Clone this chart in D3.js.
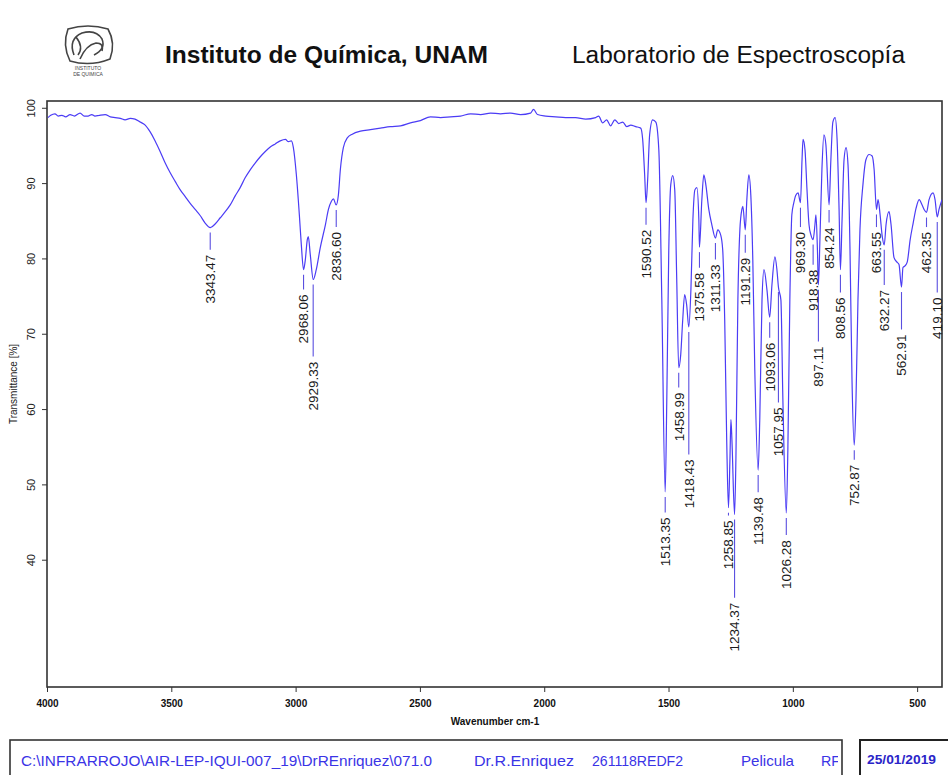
<!DOCTYPE html>
<html>
<head>
<meta charset="utf-8">
<script src="https://cdn.jsdelivr.net/npm/d3@7"></script>
<style>
  html, body { margin: 0; padding: 0; background: #fff; }
  svg { display: block; font-family: "Liberation Sans", Arial, sans-serif; }
</style>
</head>
<body>
<svg id="chart" width="948" height="775"></svg>
<script>
// IR spectrum: wavenumber (cm-1) and transmittance (%)
const wavenumber = [
  3996,3985,3968,3955,3940,3925,3907,3890,3867,3850,3835,3820,3807,3790,3766,3745,3726,3705,3686,3665,
  3646,3625,3605,3585,3565,3545,3525,3505,3484,3464,3444,3424,3404,3384,3364,3343,3323,3303,3283,3263,
  3243,3223,3203,3182,3162,3142,3122,3102,3082,3062,3041,3029,3017,3009,2997,2985,2977,2968,2961,2953,
  2949,2941,2929,2917,2901,2880,2868,2856,2848,2837,2828,2820,2808,2792,2772,2739,2699,2659,2619,2578,
  2538,2498,2458,2417,2377,2337,2296,2256,2216,2176,2135,2095,2055,2043,2027,1994,1954,1914,1874,1833,
  1793,1781,1765,1749,1733,1716,1700,1684,1668,1652,1632,1612,1604,1596,1590.5,1584,1576,1564,1551,1539,
  1527,1513.4,1507,1499,1491,1483,1475,1467,1459,1451,1443,1435,1427,1418.4,1410,1402,1394,1386,1378,1375.6,
  1366,1358,1350,1338,1326,1311.3,1302,1290,1282,1274,1266,1258.9,1253,1249,1245,1234.4,1229,1221,1213,1205,
  1201,1191.3,1185,1177,1169,1161,1153,1139.5,1133,1124,1116,1104,1093.1,1084,1072,1064,1058,1048,1040,1026.3,
  1020,1012,1004,996,988,979,969.3,963,959,951,943,935,927,918.4,911,907,901,897.1,891,883,
  875,867,854.2,847,839,830,822,814,808.6,802,794,786,778,770,762,752.9,746,738,730,718,
  706,693,681,673,663.6,657,649,641,632.3,625,613,605,593,581,573,562.9,557,549,540,528,
  516,504,492,480,472,462.4,452,436,428,419.1,412,400
];
const transmittance = [
  98.7,99.0,99.2,98.9,99.0,98.8,99.1,98.9,99.3,98.9,98.9,99.1,98.9,99.0,99.1,98.8,98.7,98.6,98.4,98.6,
  98.5,98.1,97.7,96.8,95.6,94.2,92.7,91.4,90.2,89.1,88.2,87.3,86.5,85.7,84.7,84.1,84.6,85.4,86.2,87.1,
  88.3,89.4,90.7,91.8,92.7,93.5,94.2,94.8,95.2,95.6,95.8,95.5,95.6,94.7,91.1,85.8,81.8,78.5,79.8,82.5,
  82.9,80.5,77.2,78.5,81.4,84.5,86.5,87.6,87.9,87.1,88.4,91.8,94.7,96.0,96.5,96.9,97.1,97.3,97.5,97.6,
  98.0,98.3,98.8,98.7,98.8,98.9,99.2,99.1,99.3,99.2,99.3,99.1,99.3,99.8,99.1,98.9,98.8,98.7,98.7,98.5,
  98.7,98.9,98.0,98.4,97.6,98.4,97.9,98.1,97.5,97.7,97.5,97.3,95.8,91.1,87.4,90.4,96.4,98.4,98.1,94.4,
  74.5,49.0,61.2,81.1,89.8,91.0,89.1,77.2,65.5,67.2,71.8,75.2,73.8,70.9,75.8,85.1,89.1,89.4,85.1,81.5,
  87.8,91.1,89.8,86.5,84.5,82.7,83.8,83.1,81.1,71.8,55.9,46.9,53.3,58.6,55.9,46.0,53.3,74.5,83.8,86.5,
  86.9,83.8,87.8,91.1,88.4,79.8,65.2,51.9,58.6,74.5,78.5,75.8,72.2,76.5,80.2,78.5,76.2,74.5,61.2,46.2,
  54.6,74.5,85.8,87.4,88.4,88.7,87.4,93.1,95.8,94.4,89.1,84.5,83.1,82.5,84.5,85.8,81.1,76.5,82.5,91.8,
  96.4,95.1,87.1,93.1,98.1,98.7,95.8,86.5,78.5,85.1,93.1,94.7,92.4,81.1,63.9,55.2,61.2,74.5,83.8,89.8,
  93.1,93.8,93.6,91.8,86.5,87.8,85.8,83.1,81.8,84.5,86.2,84.5,80.1,79.5,79.2,76.2,78.8,79.0,79.5,82.5,
  84.7,86.7,87.8,87.1,86.5,86.1,87.8,88.7,87.8,85.5,86.5,87.8
];

// Picked peaks: position, transmittance at the band, and level where the label text begins
const peakWavenumber = [3343.47,2968.06,2929.33,2836.60,1590.52,1513.35,1458.99,1418.43,1375.58,1311.33,
  1258.85,1234.37,1191.29,1139.48,1093.06,1057.95,1026.28,969.30,918.38,897.11,854.24,808.56,752.87,
  663.55,632.27,562.91,462.35,419.10];
const peakTransmittance = [84.1,78.5,77.2,87.1,87.4,49.0,65.5,70.9,81.5,82.7,
  46.9,46.0,83.8,51.9,72.2,76.2,46.2,87.4,82.5,76.5,87.1,78.5,55.2,
  86.5,81.8,76.2,86.1,85.5];
const peakLabelLevel = [80.5,75.2,66.3,83.5,83.8,45.6,62.2,53.3,78.1,79.2,
  45.2,34.3,80.1,48.3,68.8,60.2,42.6,83.5,78.5,68.3,84.1,74.8,52.6,
  83.5,75.8,69.9,83.5,74.8];

const xTicks = [4000,3500,3000,2500,2000,1500,1000,500];
const yTicks = [100,90,80,70,60,50,40];

const headerTitle = "Instituto de Química, UNAM";
const headerLab = "Laboratorio de Espectroscopía";
const xTitle = "Wavenumber cm-1";
const yTitle = "Transmittance [%]";
const footerFields = [
  {text: "C:\\INFRARROJO\\AIR-LEP-IQUI-007_19\\DrREnriquez\\071.0", x: 21, len: 411},
  {text: "Dr.R.Enriquez", x: 474, len: 100},
  {text: "261118REDF2", x: 592, len: 91},
  {text: "Pelicula", x: 741, len: 53},
  {text: "RF", x: 821, len: 19}
];
const footerDate = "25/01/2019";

const svg = d3.select("#chart");
const plot = {left: 47, right: 942, top: 101, bottom: 687};

const x = d3.scaleLinear().domain([4000, 400]).range([plot.left, plot.right]);
const y = d3.scaleLinear().domain([23.1, 100.9]).range([plot.bottom, plot.top]);

const lineColor = "#4b3cf5";

// ---- header ----
const logo = svg.append("g").attr("transform", "translate(62,25)")
  .attr("fill", "none").attr("stroke", "#444").attr("stroke-width", 1.6);
logo.append("path").attr("d", "M6,4 Q26,-2 46,4 Q54,18 48,34 Q28,42 8,36 Q0,20 6,4 Z");
logo.append("path").attr("d", "M12,30 Q6,14 20,8 Q34,4 40,14 Q44,24 32,30");
logo.append("path").attr("d", "M18,34 Q24,20 34,18 Q42,18 40,26");
logo.append("path").attr("d", "M14,12 Q22,22 16,30");
logo.append("text").attr("x", 26).attr("y", 45).attr("text-anchor", "middle")
  .attr("stroke", "none").attr("fill", "#444").attr("font-size", 5).text("INSTITUTO");
logo.append("text").attr("x", 26).attr("y", 51).attr("text-anchor", "middle")
  .attr("stroke", "none").attr("fill", "#444").attr("font-size", 5).text("DE QUIMICA");

svg.append("text").attr("x", 165).attr("y", 63)
  .attr("font-size", 23).attr("font-weight", "bold").attr("fill", "#111")
  .attr("textLength", 323).attr("lengthAdjust", "spacingAndGlyphs")
  .text(headerTitle);
svg.append("text").attr("x", 572).attr("y", 63)
  .attr("font-size", 23.5).attr("fill", "#111")
  .attr("textLength", 333).attr("lengthAdjust", "spacingAndGlyphs")
  .text(headerLab);

// ---- plot frame ----
svg.append("rect")
  .attr("x", plot.left).attr("y", plot.top)
  .attr("width", plot.right - plot.left).attr("height", plot.bottom - plot.top)
  .attr("fill", "none").attr("stroke", "#333").attr("stroke-width", 1.6);

// ---- axes ----
const xAxis = svg.append("g").attr("transform", `translate(0,${plot.bottom})`)
  .call(d3.axisBottom(x).tickValues(xTicks).tickSize(5).tickPadding(8).tickFormat(d3.format("d")));
xAxis.select(".domain").remove();
xAxis.selectAll("line").attr("stroke", "#333");
xAxis.selectAll("text").attr("font-size", 10).attr("font-weight", "bold")
  .attr("font-family", "'Liberation Sans Narrow', 'Liberation Sans', Arial, sans-serif")
  .attr("fill", "#111");

const yAxis = svg.append("g").attr("transform", `translate(${plot.left},0)`)
  .call(d3.axisLeft(y).tickValues(yTicks).tickSize(5).tickFormat(d3.format("d")));
yAxis.select(".domain").remove();
yAxis.selectAll("line").attr("stroke", "#333");
yAxis.selectAll("text")
  .attr("font-size", 11).attr("fill", "#222")
  .attr("text-anchor", "middle")
  .attr("x", 0).attr("dy", 0)
  .attr("transform", "translate(-15,0) rotate(-90)")
  .attr("dominant-baseline", "middle");

svg.append("text")
  .attr("transform", `translate(14,${(plot.top + plot.bottom) / 2 - 10}) rotate(-90)`)
  .attr("text-anchor", "middle").attr("dominant-baseline", "middle")
  .attr("font-size", 10).attr("fill", "#222")
  .text(yTitle);

svg.append("text")
  .attr("x", 495).attr("y", 725).attr("text-anchor", "middle")
  .attr("font-size", 10).attr("font-weight", "bold")
  .attr("font-family", "'Liberation Sans Narrow', 'Liberation Sans', Arial, sans-serif")
  .attr("fill", "#111")
  .text(xTitle);

// ---- spectrum ----
const spectrum = wavenumber.map((w, i) => ({w, t: transmittance[i]}));
svg.append("clipPath").attr("id", "plotClip").append("rect")
  .attr("x", plot.left).attr("y", plot.top)
  .attr("width", plot.right - plot.left).attr("height", plot.bottom - plot.top);

svg.append("path")
  .datum(spectrum)
  .attr("clip-path", "url(#plotClip)")
  .attr("fill", "none").attr("stroke", lineColor).attr("stroke-width", 1.2)
  .attr("stroke-linejoin", "round")
  .attr("d", d3.line().x(d => x(d.w)).y(d => y(d.t)).curve(d3.curveMonotoneX));

// ---- peak annotations ----
const peaks = peakWavenumber.map((w, i) => ({w, t: peakTransmittance[i], lab: peakLabelLevel[i]}));
const pg = svg.append("g");
pg.selectAll("line").data(peaks).join("line")
  .attr("x1", d => x(d.w)).attr("x2", d => x(d.w))
  .attr("y1", d => y(d.t) + 5).attr("y2", d => y(d.lab) - 5)
  .attr("stroke", "#5a4fe0").attr("stroke-width", 1.1);
pg.selectAll("text").data(peaks).join("text")
  .attr("transform", d => `translate(${x(d.w)},${y(d.lab)}) rotate(-90)`)
  .attr("text-anchor", "end").attr("dy", "0.36em")
  .attr("font-size", 13.5).attr("fill", "#1a1a1a")
  .text(d => d.w.toFixed(2));

// ---- footer ----
svg.append("clipPath").attr("id", "footClip").append("rect")
  .attr("x", 10).attr("y", 740).attr("width", 828).attr("height", 40);
svg.append("rect").attr("x", 10).attr("y", 740).attr("width", 832).attr("height", 45)
  .attr("fill", "none").attr("stroke", "#333").attr("stroke-width", 1.6);
svg.append("g").attr("clip-path", "url(#footClip)")
  .selectAll("text").data(footerFields).join("text")
  .attr("x", d => d.x).attr("y", 766)
  .attr("font-size", 15).attr("fill", "#3a34e6")
  .attr("textLength", d => d.len).attr("lengthAdjust", "spacingAndGlyphs")
  .text(d => d.text);

svg.append("rect").attr("x", 860).attr("y", 740).attr("width", 95).attr("height", 45)
  .attr("fill", "none").attr("stroke", "#222").attr("stroke-width", 2);
svg.append("text").attr("x", 867).attr("y", 764)
  .attr("font-size", 13).attr("font-weight", "bold").attr("fill", "#2a24c8")
  .attr("textLength", 69).attr("lengthAdjust", "spacingAndGlyphs")
  .text(footerDate);
</script>
</body>
</html>
